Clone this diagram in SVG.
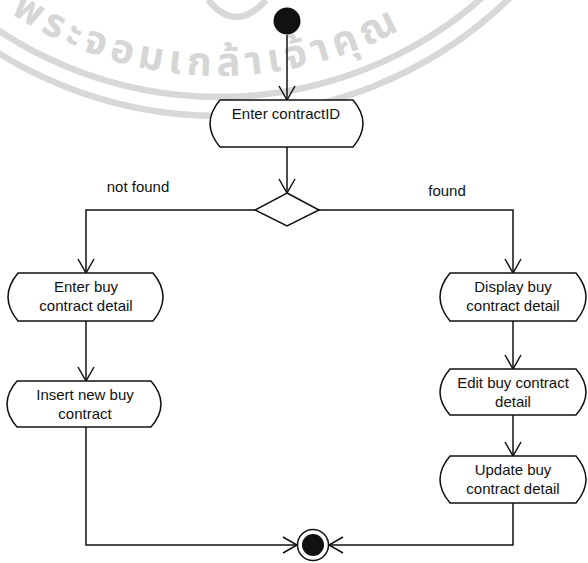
<svg xmlns="http://www.w3.org/2000/svg" width="588" height="563" viewBox="0 0 588 563">
<style>
.wm{fill:none;stroke:#d8d8d8;stroke-width:6.5}
.wt{fill:#d6d6d6;font-family:"Noto Sans Thai","Noto Sans","DejaVu Sans",sans-serif;font-size:40px;font-weight:bold;letter-spacing:5.5px}
.box{fill:#fff;stroke:#111;stroke-width:1.5}
.t{font-family:"Liberation Sans",Arial,sans-serif;font-size:15px;fill:#111;text-anchor:middle}
.c{fill:none;stroke:#111;stroke-width:1.5}
</style>
<defs>
<marker id="ah" markerUnits="userSpaceOnUse" markerWidth="20" markerHeight="20" viewBox="0 0 20 20" refX="15" refY="10" orient="auto">
<path d="M1,2 L15,10 L1,18" fill="none" stroke="#111" stroke-width="1.5"/>
</marker>
<path id="wpath" d="M-23.3,-12.2 A377,377 0 0 0 545.5,-112.5"/>
</defs>
<rect width="588" height="563" fill="#fff"/>
<g id="watermark">
<circle class="wm" cx="219" cy="-301" r="398"/>
<circle class="wm" cx="219" cy="-301" r="417"/>
<path class="wm" d="M208,0 Q236,34 266,0" stroke-width="9"/>
<text class="wt"><textPath href="#wpath" startOffset="42">พระจอมเกล้าเจ้าคุณ</textPath></text>
</g>
<g id="connectors">
<line class="c" x1="287" y1="35" x2="287" y2="100" marker-end="url(#ah)"/>
<line class="c" x1="287" y1="147" x2="287" y2="193" marker-end="url(#ah)"/>
<polyline class="c" points="255,210 86,210 86,273" marker-end="url(#ah)"/>
<polyline class="c" points="319,210 513,210 513,273" marker-end="url(#ah)"/>
<line class="c" x1="86" y1="321" x2="86" y2="381" marker-end="url(#ah)"/>
<line class="c" x1="513" y1="321" x2="513" y2="369" marker-end="url(#ah)"/>
<line class="c" x1="513" y1="415" x2="513" y2="456" marker-end="url(#ah)"/>
<polyline class="c" points="86,427 86,545 297,545" marker-end="url(#ah)"/>
<polyline class="c" points="513,503 513,545 329,545" marker-end="url(#ah)"/>
<text class="t" x="138" y="192">not found</text>
<text class="t" x="447" y="196">found</text>
</g>
<g id="start"><circle cx="287" cy="21" r="13.5" fill="#111"/></g>
<g id="enter-contractid">
<path class="box" d="M220,100 H353 Q373,123.5 353,147 H220 Q200,123.5 220,100 Z"/>
<text class="t" x="286" y="119">Enter contractID</text>
</g>
<g id="decision"><polygon class="box" points="287,193 319,210 287,226 255,210"/></g>
<g id="enter-buy-contract-detail">
<path class="box" d="M18,273 H153 Q173,297 153,321 H18 Q-2,297 18,273 Z"/>
<text class="t" x="86" y="292">Enter buy</text>
<text class="t" x="86" y="311">contract detail</text>
</g>
<g id="insert-new-buy-contract">
<path class="box" d="M17,381 H151 Q171,404 151,427 H17 Q-3,404 17,381 Z"/>
<text class="t" x="85" y="400">Insert new buy</text>
<text class="t" x="85" y="419">contract</text>
</g>
<g id="display-buy-contract-detail">
<path class="box" d="M450,273 H576 Q596,297 576,321 H450 Q430,297 450,273 Z"/>
<text class="t" x="513" y="292">Display buy</text>
<text class="t" x="513" y="311">contract detail</text>
</g>
<g id="edit-buy-contract-detail">
<path class="box" d="M450,369 H576 Q596,392 576,415 H450 Q430,392 450,369 Z"/>
<text class="t" x="513" y="388">Edit buy contract</text>
<text class="t" x="513" y="407">detail</text>
</g>
<g id="update-buy-contract-detail">
<path class="box" d="M450,456 H576 Q596,479.5 576,503 H450 Q430,479.5 450,456 Z"/>
<text class="t" x="513" y="475">Update buy</text>
<text class="t" x="513" y="494">contract detail</text>
</g>
<g id="end">
<circle cx="313" cy="545" r="15.5" fill="#fff" stroke="#111" stroke-width="1.5"/>
<circle cx="313" cy="545" r="11" fill="#111"/>
</g>
</svg>
